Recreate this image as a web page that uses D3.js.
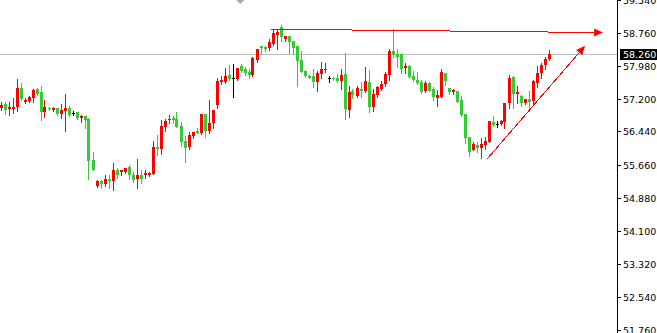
<!DOCTYPE html>
<html><head><meta charset="utf-8">
<script src="https://cdn.jsdelivr.net/npm/d3@7"></script>
<style>html,body{margin:0;padding:0;background:#fff;overflow:hidden}</style>
</head><body><svg id="c" width="657" height="333"></svg>
<script>
const opens = [57.00,57.09,56.97,56.97,57.02,57.46,57.13,57.16,57.23,57.44,57.37,56.90,56.99,56.95,56.99,56.85,56.92,56.99,56.87,56.90,56.76,56.80,56.73,55.77,55.15,55.27,55.20,55.32,55.27,55.53,55.48,55.48,55.60,55.41,55.32,55.41,55.41,55.41,55.44,56.07,56.03,56.54,56.71,56.76,56.73,56.57,56.22,56.07,56.33,56.45,56.40,56.85,56.45,56.64,57.06,57.61,57.61,57.77,57.70,57.68,57.98,57.91,57.84,57.77,58.12,58.45,58.43,58.41,58.50,58.71,58.90,58.62,58.69,58.57,58.45,58.12,57.86,57.75,57.75,57.61,57.79,57.89,57.69,57.70,57.70,57.63,57.79,56.95,57.39,57.28,57.44,57.39,57.61,57.02,57.30,57.44,57.56,57.77,58.34,58.27,58.27,57.94,57.98,57.75,57.65,57.61,57.39,57.58,57.44,57.23,57.25,57.82,57.46,57.37,57.39,57.18,56.85,56.31,56.00,56.12,56.05,56.12,56.19,56.66,56.62,56.62,56.66,57.11,57.72,57.32,57.28,57.11,57.20,57.16,57.58,57.82,58.01,58.15];
const highs = [57.13,57.13,57.13,57.22,57.68,57.58,57.22,57.28,57.44,57.46,57.51,57.18,57.02,57.02,56.99,57.09,57.32,57.04,56.92,56.90,56.83,56.80,56.76,55.96,55.30,55.30,55.41,55.41,55.70,55.58,55.53,55.58,55.65,55.48,55.79,55.53,55.53,55.48,56.22,56.36,56.71,56.73,56.83,56.80,56.90,56.66,56.33,56.43,56.43,56.52,56.85,56.85,57.18,56.95,57.70,57.75,57.94,58.01,58.03,57.94,58.03,57.96,57.91,58.20,58.38,58.45,58.45,58.62,58.85,58.85,58.95,58.69,58.69,58.57,58.45,58.34,57.89,57.77,57.91,57.86,58.08,58.05,57.75,57.72,57.79,57.91,58.29,57.51,57.44,57.51,57.61,57.96,57.89,57.44,57.51,57.63,57.84,58.38,58.85,58.38,58.27,58.05,58.01,57.86,57.84,57.65,57.63,57.61,57.49,57.42,57.91,57.82,57.46,57.44,57.39,57.28,56.85,56.31,56.19,56.19,56.29,56.31,56.69,56.80,56.69,56.71,57.11,57.77,57.75,57.51,57.30,57.20,57.39,57.65,57.98,58.05,58.20,58.36];
const lows = [56.95,56.86,56.83,56.87,56.92,57.18,57.11,57.13,57.13,57.30,56.71,56.78,56.95,56.92,56.83,56.76,56.45,56.80,56.83,56.73,56.66,56.52,55.32,55.53,55.13,55.11,55.15,55.11,55.06,55.34,55.41,55.46,55.32,55.25,55.11,55.22,55.34,55.39,55.44,55.88,55.91,56.45,56.64,56.64,56.54,56.10,55.72,56.03,56.29,56.40,56.38,56.31,56.40,56.52,56.99,57.56,57.58,57.65,57.25,57.65,57.84,57.77,57.70,57.75,58.08,58.27,58.34,58.36,58.48,58.38,58.57,58.57,58.29,58.27,57.51,57.84,57.72,57.70,57.49,57.39,57.70,57.84,57.61,57.65,57.61,57.44,56.73,56.78,57.23,57.25,57.25,57.37,56.90,56.92,57.25,57.42,57.51,57.65,58.20,57.96,57.82,57.82,57.70,57.63,57.56,57.35,57.37,57.39,57.18,57.04,57.25,57.53,57.32,57.32,57.13,56.80,56.17,55.86,56.00,55.96,55.81,56.03,56.19,56.57,56.54,56.59,56.52,56.99,56.99,57.11,57.04,57.09,56.92,57.06,57.49,57.70,57.91,58.12];
const closes = [57.06,56.95,57.02,57.02,57.46,57.20,57.18,57.25,57.42,57.32,56.90,57.02,56.97,56.99,56.85,56.95,56.99,56.83,56.87,56.76,56.80,56.71,55.74,55.53,55.27,55.20,55.32,55.27,55.53,55.41,55.53,55.58,55.41,55.30,55.41,55.32,55.46,55.46,56.07,56.03,56.57,56.69,56.73,56.71,56.54,56.19,56.05,56.36,56.43,56.40,56.85,56.45,56.64,56.95,57.63,57.65,57.75,57.68,57.70,57.94,57.86,57.82,57.77,58.17,58.38,58.41,58.38,58.55,58.76,58.78,58.67,58.69,58.55,58.41,58.10,57.84,57.75,57.70,57.61,57.82,57.91,57.91,57.69,57.68,57.63,57.77,56.97,57.37,57.30,57.46,57.39,57.63,57.02,57.32,57.49,57.56,57.79,58.34,58.24,58.20,57.91,57.98,57.72,57.65,57.58,57.37,57.58,57.39,57.25,57.30,57.84,57.63,57.37,57.42,57.13,56.83,56.29,55.96,56.14,56.05,56.14,56.22,56.69,56.59,56.62,56.69,57.11,57.70,57.32,57.37,57.11,57.20,57.13,57.63,57.82,58.01,58.15,58.26];
const tickValues = [59.54,58.76,57.98,57.20,56.44,55.66,54.88,54.10,53.32,52.54,51.76];
const tickLabels = ["59.540","58.760","57.980","57.200","56.440","55.660","54.880","54.100","53.320","52.540","51.760"];
const bidPrice = 58.26;
const bidLabel = "58.260";
// annotations: [startIndex, startPrice, endIndex, endPrice]
const arrowH = [67.4, 58.85, 150.4, 58.77];
const arrowUp = [121.4, 55.79, 145.9, 58.46];
const shiftIndex = 59.7;

const svg = d3.select("#c");
const axisX = 617;
const N = opens.length;
const x = d3.scaleLinear().domain([0, N]).range([0, 4 * N]);
const y = d3.scaleLinear().domain([51.76, 58.76]).range([330, 33]);
const cx = i => x(i) + 1.5;

// bid line
svg.append("line").attr("x1", 0).attr("x2", axisX).attr("y1", Math.round(y(bidPrice)) + 0.5).attr("y2", Math.round(y(bidPrice)) + 0.5)
  .attr("stroke", "#c0c0c0").attr("stroke-width", 1);

// shift marker
const sx = cx(shiftIndex);
svg.append("path").attr("d", `M${sx-4},0L${sx+4},0L${sx},4Z`).attr("fill", "#a8a8a8");

const data = opens.map((o, i) => ({i, o, h: highs[i], l: lows[i], c: closes[i]}));
const col = d => d.c > d.o ? "#ff0000" : (d.c < d.o ? "#32cd32" : "#000000");

const g = svg.append("g").attr("shape-rendering", "crispEdges");
g.selectAll("line.w").data(data).join("line").attr("class", "w")
  .attr("x1", d => Math.floor(x(d.i)) + 1.5).attr("x2", d => Math.floor(x(d.i)) + 1.5)
  .attr("y1", d => Math.round(y(d.h))).attr("y2", d => Math.round(y(d.l)) + 1)
  .attr("stroke", col).attr("stroke-width", 1);
g.selectAll("rect.b").data(data).join("rect").attr("class", "b")
  .attr("x", d => Math.floor(x(d.i)))
  .attr("width", d => d.c === d.o ? 3 : 3)
  .attr("y", d => Math.round(y(Math.max(d.o, d.c))))
  .attr("height", d => Math.max(1, Math.round(y(Math.min(d.o, d.c))) - Math.round(y(Math.max(d.o, d.c)))))
  .attr("fill", col);

// arrows
function arrow(a) {
  const x1 = cx(a[0]), y1 = y(a[1]), x2 = cx(a[2]), y2 = y(a[3]);
  const ang = Math.atan2(y2 - y1, x2 - x1);
  const L = 9, W = 4;
  const bx = x2 - L * Math.cos(ang), by = y2 - L * Math.sin(ang);
  svg.append("line").attr("x1", x1).attr("y1", y1).attr("x2", bx).attr("y2", by)
    .attr("stroke", "#ff0000").attr("stroke-width", 1).attr("shape-rendering", "crispEdges");
  const px = -Math.sin(ang) * W, py = Math.cos(ang) * W;
  svg.append("path").attr("d", `M${x2},${y2}L${bx+px},${by+py}L${bx-px},${by-py}Z`).attr("fill", "#ff0000");
}
arrow(arrowH);
arrow(arrowUp);

// price axis
svg.append("line").attr("x1", axisX + 0.5).attr("x2", axisX + 0.5).attr("y1", 0).attr("y2", 333).attr("stroke", "#000");
const ax = svg.append("g");
tickValues.forEach((v, k) => {
  const ty = Math.round(y(v)) + 0.5;
  ax.append("line").attr("x1", axisX).attr("x2", axisX + 4).attr("y1", ty).attr("y2", ty).attr("stroke", "#000");
  ax.append("text").attr("x", axisX + 6).attr("y", ty).attr("dy", "0.35em")
    .attr("font-family", "DejaVu Sans, Verdana, sans-serif").attr("font-size", 9.5).attr("fill", "#000").text(tickLabels[k]);
});
const by0 = Math.round(y(bidPrice));
svg.append("rect").attr("x", axisX + 3).attr("y", by0 - 5).attr("width", 37).attr("height", 11).attr("fill", "#000");
svg.append("text").attr("x", axisX + 6).attr("y", by0 + 0.5).attr("dy", "0.35em")
  .attr("font-family", "DejaVu Sans, Verdana, sans-serif").attr("font-size", 9.5).attr("fill", "#fff").text(bidLabel);
</script></body></html>
